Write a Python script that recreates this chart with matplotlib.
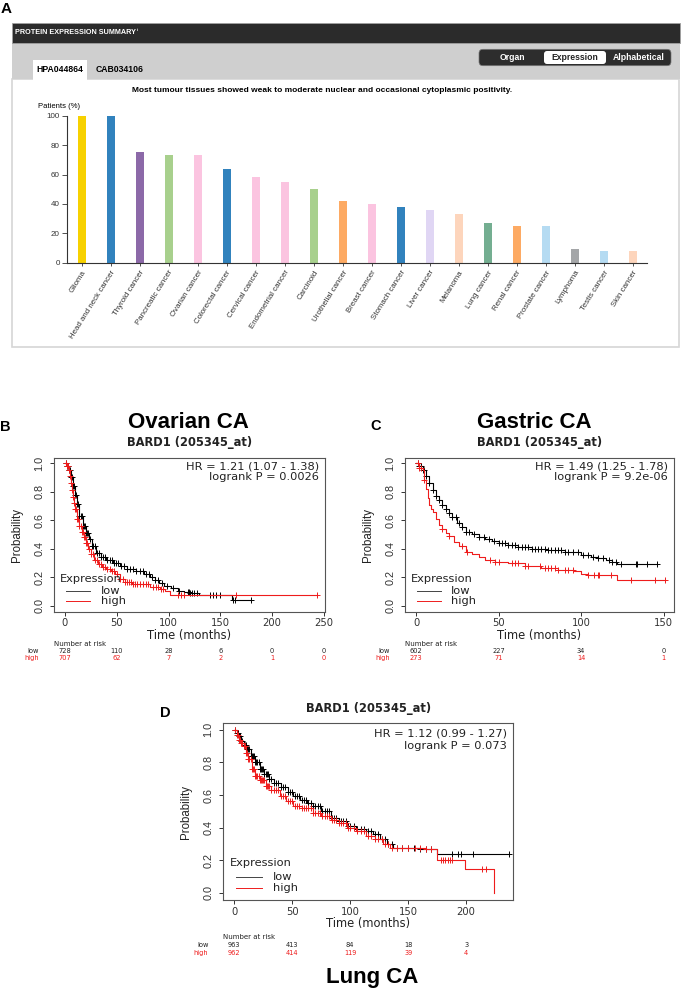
import numpy as np
import matplotlib.pyplot as plt
from matplotlib.patches import Rectangle, FancyBboxPatch
from matplotlib.transforms import offset_copy

# ---------------- panel A: protein expression summary ----------------
cancers = ['Glioma', 'Head and neck cancer', 'Thyroid cancer', 'Pancreatic cancer',
           'Ovarian cancer', 'Colorectal cancer', 'Cervical cancer', 'Endometrial cancer',
           'Carcinoid', 'Urothelial cancer', 'Breast cancer', 'Stomach cancer',
           'Liver cancer', 'Melanoma', 'Lung cancer', 'Renal cancer', 'Prostate cancer',
           'Lymphoma', 'Testis cancer', 'Skin cancer']
patients_pct = [100, 100, 75, 73, 73, 64, 58, 55, 50, 42, 40, 38, 36, 33, 27, 25, 25, 9, 8, 8]
bar_colors = ['#f7d100', '#3182bd', '#8c69a8', '#a8d08d', '#fbc4e0', '#3182bd', '#fbc4e0',
              '#fbc4e0', '#a8d08d', '#fdaa63', '#fbc4e0', '#3182bd', '#e0d6f4', '#fdd5bc',
              '#74ae91', '#fdaa63', '#b5dbf2', '#a4a6a8', '#b5dbf2', '#fdd5bc']
pct_ticks = [0, 20, 40, 60, 80, 100]

# ---------------- KM curves (time in months, survival probability) ----------------
ov_low_t = [0, 2, 4, 6, 8, 10, 12, 14, 17, 20, 23, 26, 30, 35, 40, 46, 53, 60, 69, 76, 82,
            87, 91, 96, 102, 109, 115, 121, 129, 161, 180]
ov_low_s = [1.0, 0.98, 0.95, 0.90, 0.84, 0.78, 0.71, 0.63, 0.56, 0.51, 0.47, 0.42, 0.37,
            0.34, 0.32, 0.30, 0.28, 0.26, 0.24, 0.22, 0.20, 0.18, 0.16, 0.14, 0.12, 0.10,
            0.095, 0.09, 0.075, 0.04, 0.04]
ov_low_cens = [1, 2, 3, 4, 5, 6, 7, 8, 9, 10, 11, 12, 13, 14, 15, 16, 17, 18, 19, 20, 21, 22,
               24, 26, 27, 29, 31, 33, 35, 37, 39, 41, 43, 45, 47, 49, 51, 54, 57, 60, 63, 66,
               69, 72, 75, 78, 81, 84, 87, 90, 94, 98, 104, 110, 119, 120, 121, 123, 125, 127,
               140, 143, 146, 150, 162, 164, 180]
ov_high_t = [0, 2, 4, 5, 6, 7, 8, 9, 10, 12, 14, 16, 18, 20, 22, 25, 28, 32, 36, 40, 44, 48,
             53, 58, 65, 82, 92, 97, 101, 243]
ov_high_s = [1.0, 0.98, 0.95, 0.91, 0.86, 0.81, 0.76, 0.72, 0.68, 0.61, 0.56, 0.52, 0.48,
             0.44, 0.40, 0.36, 0.32, 0.29, 0.27, 0.26, 0.24, 0.22, 0.19, 0.165, 0.15, 0.13,
             0.115, 0.10, 0.074, 0.074]
ov_high_cens = [1, 2, 3, 4, 5, 6, 7, 8, 9, 10, 11, 12, 13, 14, 15, 16, 17, 18, 19, 20, 21, 23,
                25, 27, 29, 31, 33, 35, 37, 39, 41, 43, 45, 47, 50, 53, 56, 58, 60, 62, 64, 66,
                68, 70, 72, 75, 78, 80, 85, 88, 90, 93, 95, 109, 112, 115, 165, 243]

ga_low_t = [0, 2, 4, 6, 8, 10, 12, 14, 16, 18, 20, 22, 25, 28, 30, 34, 38, 42, 46, 50, 56,
            62, 70, 80, 90, 100, 106, 110, 115, 119, 122, 146]
ga_low_s = [1.0, 0.98, 0.95, 0.91, 0.86, 0.81, 0.77, 0.74, 0.71, 0.68, 0.65, 0.62, 0.58,
            0.55, 0.52, 0.50, 0.48, 0.47, 0.455, 0.44, 0.425, 0.41, 0.40, 0.39, 0.375,
            0.355, 0.345, 0.335, 0.32, 0.31, 0.293, 0.293]
ga_low_cens = [1, 2, 3, 4, 5, 6, 8, 10, 12, 14, 16, 18, 20, 22, 24, 26, 28, 30, 32, 35, 38,
               41, 44, 47, 50, 52, 54, 56, 58, 60, 62, 64, 66, 68, 70, 72, 74, 76, 78, 80, 82,
               84, 86, 88, 90, 92, 95, 98, 101, 104, 107, 110, 113, 117, 119, 121, 124, 133,
               134, 140, 146]
ga_high_t = [0, 2, 4, 5, 6, 7, 8, 9, 10, 12, 14, 16, 18, 20, 23, 26, 30, 34, 38, 42, 48, 56,
             66, 76, 86, 96, 100, 104, 122, 151]
ga_high_s = [1.0, 0.97, 0.95, 0.88, 0.82, 0.76, 0.71, 0.68, 0.66, 0.61, 0.57, 0.54, 0.51,
             0.49, 0.45, 0.42, 0.38, 0.36, 0.34, 0.32, 0.305, 0.297, 0.28, 0.263, 0.25,
             0.24, 0.225, 0.215, 0.177, 0.177]
ga_high_cens = [1, 2, 3, 5, 16, 20, 28, 31, 45, 48, 50, 58, 60, 62, 66, 68, 75, 78, 80, 82,
                84, 86, 90, 92, 95, 104, 108, 110, 111, 118, 130, 145, 151]

lu_low_t = [0, 2, 4, 6, 8, 11, 14, 18, 22, 26, 30, 34, 40, 46, 51, 57, 63, 68, 75, 83, 90,
            97, 105, 114, 120, 126, 132, 137, 150, 160, 172, 175, 237]
lu_low_s = [1.0, 0.98, 0.96, 0.93, 0.91, 0.88, 0.84, 0.80, 0.76, 0.73, 0.70, 0.675, 0.65,
            0.62, 0.595, 0.57, 0.55, 0.533, 0.50, 0.462, 0.44, 0.41, 0.395, 0.38, 0.36,
            0.33, 0.30, 0.277, 0.275, 0.272, 0.27, 0.24, 0.24]
lu_low_cens = [1, 2, 3, 4, 5, 6, 7, 8, 9, 10, 11, 12, 13, 14, 15, 16, 17, 18, 19, 20, 21, 22,
               23, 24, 25, 26, 27, 28, 29, 30, 32, 34, 36, 38, 40, 42, 44, 46, 48, 50, 52, 54,
               56, 58, 60, 62, 64, 66, 68, 70, 72, 74, 76, 78, 80, 82, 84, 86, 88, 90, 92, 94,
               96, 98, 100, 103, 106, 109, 112, 115, 118, 121, 124, 127, 130, 133, 136, 140,
               145, 150, 155, 160, 165, 170, 188, 193, 196, 206, 237]
lu_high_t = [0, 2, 4, 6, 8, 10, 12, 15, 18, 22, 27, 32, 39, 45, 51, 58, 68, 75, 83, 90, 97,
             105, 114, 121, 128, 134, 150, 165, 175, 199, 224]
lu_high_s = [1.0, 0.97, 0.94, 0.92, 0.90, 0.86, 0.82, 0.76, 0.72, 0.69, 0.655, 0.63, 0.595,
             0.565, 0.533, 0.52, 0.49, 0.47, 0.45, 0.43, 0.40, 0.38, 0.35, 0.33, 0.30,
             0.277, 0.275, 0.272, 0.205, 0.148, 0.0]
lu_high_cens = [1, 2, 3, 4, 5, 6, 7, 8, 9, 10, 11, 12, 13, 14, 15, 16, 17, 18, 19, 20, 21,
                22, 23, 24, 25, 26, 27, 28, 29, 30, 32, 34, 36, 38, 40, 42, 44, 46, 48, 50, 52,
                54, 56, 58, 60, 62, 64, 66, 68, 70, 72, 74, 76, 78, 80, 82, 84, 86, 88, 90,
                92, 94, 96, 98, 100, 103, 106, 109, 112, 115, 118, 121, 124, 127, 130, 133,
                136, 140, 145, 150, 156, 160, 165, 170, 178, 180, 182, 184, 186, 188, 214, 217]

ov_ticks = [0, 50, 100, 150, 200, 250]
ga_ticks = [0, 50, 100, 150]
lu_ticks = [0, 50, 100, 150, 200]
ov_risk_low = [728, 110, 28, 6, 0, 0]
ov_risk_high = [707, 62, 7, 2, 1, 0]
ga_risk_low = [602, 227, 34, 0]
ga_risk_high = [273, 71, 14, 1]
lu_risk_low = [963, 413, 84, 18, 3]
lu_risk_high = [962, 414, 119, 39, 4]
prob_ticks = [0.0, 0.2, 0.4, 0.6, 0.8, 1.0]

# ---------------- figure ----------------
W, H = 684, 992
fig = plt.figure(figsize=(W / 100, H / 100), dpi=100)
ARIAL = 'Liberation Sans'
NARROW = ['Liberation Sans Narrow', 'Liberation Sans']
RED = '#ee1c1c'


def box(x0, y0, x1, y1):
    return [x0 / W, 1 - y1 / H, (x1 - x0) / W, (y1 - y0) / H]


bg = fig.add_axes([0, 0, 1, 1], zorder=-5)
bg.set_xlim(0, W)
bg.set_ylim(H, 0)
bg.axis('off')

# panel A frame
bg.add_patch(Rectangle((11.7, 79), 667.3, 267.7, fc='white', ec='#d6d6d6', lw=1.2))
bg.add_patch(Rectangle((11.7, 42.7), 668.3, 36.3, fc='#cfcfcf', ec='none'))
bg.add_patch(Rectangle((11.7, 22.7), 668.3, 20, fc='#2b2b2b', ec='#a0a0a0', lw=0.6))
bg.add_patch(Rectangle((33, 60), 54, 19.5, fc='white', ec='none'))
bg.add_patch(FancyBboxPatch((479, 49.3), 192, 16.4, boxstyle='round,pad=0,rounding_size=4',
                            fc='#2d2d2d', ec='#777777', lw=0.5))
bg.add_patch(FancyBboxPatch((544, 51), 62, 13, boxstyle='round,pad=0,rounding_size=3',
                            fc='white', ec='none'))

bg.text(6, 9, 'A', fontsize=11, fontweight='bold', family=ARIAL, ha='center', va='center')
bg.text(15, 33, 'PROTEIN EXPRESSION SUMMARY', color='white', fontsize=5.2, fontweight='bold',
        family=ARIAL, va='center')
bg.text(137, 30, 'i', color='white', fontsize=3, fontweight='bold', family=ARIAL, va='center')
bg.text(60, 70, 'HPA044864', fontsize=6.2, fontweight='bold', family=ARIAL, ha='center', va='center')
bg.text(120, 70, 'CAB034106', fontsize=6.2, fontweight='bold', family=ARIAL, ha='center', va='center')
bg.text(512, 57.5, 'Organ', color='white', fontsize=6.2, fontweight='bold', family=ARIAL,
        ha='center', va='center')
bg.text(575, 57.5, 'Expression', color='#222222', fontsize=6.2, fontweight='bold', family=ARIAL,
        ha='center', va='center')
bg.text(639, 57.5, 'Alphabetical', color='white', fontsize=6.2, fontweight='bold', family=ARIAL,
        ha='center', va='center')
bg.text(322.5, 90, 'Most tumour tissues showed weak to moderate nuclear and occasional '
        'cytoplasmic positivity.', fontsize=6, fontweight='bold', family=ARIAL,
        ha='center', va='center')
bg.text(59, 106, 'Patients (%)', fontsize=5.5, family=ARIAL, ha='center', va='center')

# bar chart
axa = fig.add_axes(box(66.7, 115.7, 647, 262.7))
xpos = np.arange(len(cancers))
axa.bar(xpos, patients_pct, width=0.28, color=bar_colors)
axa.set_xlim(-0.52, len(cancers) - 0.51)
axa.set_ylim(0, 100)
for s in ['top', 'right']:
    axa.spines[s].set_visible(False)
for s in ['left', 'bottom']:
    axa.spines[s].set_color('#333333')
    axa.spines[s].set_linewidth(0.8)
axa.set_yticks(pct_ticks)
axa.set_yticklabels([str(v) for v in pct_ticks], fontsize=5.8, family=ARIAL)
axa.set_xticks(xpos)
axa.set_xticklabels(cancers, rotation=58, ha='right', rotation_mode='anchor',
                    fontsize=5.7, family=ARIAL)
axa.tick_params(axis='y', length=3.5, width=0.6, pad=1.5, colors='#333333')
axa.tick_params(axis='x', length=2.5, width=0.6, pad=2, colors='#333333')
axa.patch.set_alpha(0)


# ---------------- KM panels ----------------
def step_at(t, s, c):
    idx = np.searchsorted(t, c, side='right') - 1
    return np.asarray(s)[idx]


def km_panel(rect, xlim, ticks, low, high, hr, pval, risk_low, risk_high, risk_dy):
    ax = fig.add_axes(box(*rect))
    for (t, s, c), col in [(low, 'black'), (high, RED)]:
        ax.plot(t, s, drawstyle='steps-post', color=col, lw=0.8)
        ax.plot(c, step_at(t, s, c), '+', color=col, ms=4, mew=0.7)
    ax.set_xlim(*xlim)
    ax.set_ylim(-0.043, 1.04)
    for sp in ax.spines.values():
        sp.set_color('#555555')
        sp.set_linewidth(0.8)
    ax.set_xticks(ticks)
    ax.set_xticklabels([str(v) for v in ticks], fontsize=7.2)
    ax.set_yticks(prob_ticks)
    ax.set_yticklabels(['%.1f' % v for v in prob_ticks], rotation=90, va='center',
                       fontsize=7.8, family=NARROW)
    ax.tick_params(axis='x', length=3, width=0.7, pad=1.8, colors='#333333')
    ax.tick_params(axis='y', length=3, width=0.7, pad=4, colors='#333333')

    def off(dx, dy, base=None):
        return offset_copy(base or ax.transAxes, fig=fig, x=dx, y=dy, units='dots')

    ax.text(0.5, 1, 'BARD1 (205345_at)', transform=off(0, 15), fontsize=8.3,
            fontweight='bold', ha='center', va='center', color='#222222')
    ax.text(0.977, 0.942, 'HR = %s' % hr, transform=ax.transAxes, fontsize=8.2,
            ha='right', va='center', color='#222222')
    ax.text(0.977, 0.873, 'logrank P = %s' % pval, transform=ax.transAxes, fontsize=8.2,
            ha='right', va='center', color='#222222')
    ax.text(0.022, 0.212, 'Expression', transform=ax.transAxes, fontsize=8.2,
            va='center', color='#222222')
    ax.text(0.172, 0.132, 'low', transform=ax.transAxes, fontsize=8.2, va='center',
            color='#222222')
    ax.text(0.172, 0.07, 'high', transform=ax.transAxes, fontsize=8.2, va='center',
            color='#222222')
    ax.plot([0.045, 0.133], [0.132, 0.132], transform=ax.transAxes, color='#444444', lw=0.7)
    ax.plot([0.045, 0.133], [0.07, 0.07], transform=ax.transAxes, color=RED, lw=0.7)
    ax.text(0, 0.5, 'Probability', transform=off(-37, 0), rotation=90, fontsize=8.3,
            family=NARROW, ha='center', va='center', color='#222222')
    ax.text(0.5, 0, 'Time (months)', transform=off(0, -23.5), fontsize=8.3,
            ha='center', va='center', color='#222222')
    ax.text(0, 0, 'Number at risk', transform=off(0, -risk_dy[0]), fontsize=5,
            ha='left', va='center', color='#222222')
    ax.text(0, 0, 'low', transform=off(-15, -risk_dy[1]), fontsize=4.8,
            ha='right', va='center', color='#222222')
    ax.text(0, 0, 'high', transform=off(-15, -risk_dy[2]), fontsize=4.8,
            ha='right', va='center', color=RED)
    xt = ax.get_xaxis_transform()
    for tk, a, b in zip(ticks, risk_low, risk_high):
        ax.text(tk, 0, str(a), transform=off(0, -risk_dy[1], xt), fontsize=4.8,
                ha='center', va='center', color='#222222')
        ax.text(tk, 0, str(b), transform=off(0, -risk_dy[2], xt), fontsize=4.8,
                ha='center', va='center', color=RED)
    return ax


km_panel((54, 457.5, 325, 611.7), (-10.6, 251), ov_ticks,
         (ov_low_t, ov_low_s, ov_low_cens), (ov_high_t, ov_high_s, ov_high_cens),
         '1.21 (1.07 - 1.38)', '0.0026', ov_risk_low, ov_risk_high, (32, 39.2, 46))
km_panel((405, 457.7, 674, 611.7), (-6.7, 156.3), ga_ticks,
         (ga_low_t, ga_low_s, ga_low_cens), (ga_high_t, ga_high_s, ga_high_cens),
         '1.49 (1.25 - 1.78)', '9.2e-06', ga_risk_low, ga_risk_high, (32, 39.2, 46))
km_panel((223.3, 723.3, 513.3, 900), (-9.5, 240.7), lu_ticks,
         (lu_low_t, lu_low_s, lu_low_cens), (lu_high_t, lu_high_s, lu_high_cens),
         '1.12 (0.99 - 1.27)', '0.073', lu_risk_low, lu_risk_high, (37, 45, 53))

# panel titles and letters
bg.text(5, 427, 'B', fontsize=10.5, fontweight='bold', family=ARIAL, ha='center', va='center')
bg.text(376, 426, 'C', fontsize=10.5, fontweight='bold', family=ARIAL, ha='center', va='center')
bg.text(165, 713, 'D', fontsize=10.5, fontweight='bold', family=ARIAL, ha='center', va='center')
bg.text(188, 422, 'Ovarian CA', fontsize=16, fontweight='bold', family=ARIAL,
        ha='center', va='center')
bg.text(534, 422, 'Gastric CA', fontsize=16, fontweight='bold', family=ARIAL,
        ha='center', va='center')
bg.text(372, 978, 'Lung CA', fontsize=16, fontweight='bold', family=ARIAL,
        ha='center', va='center')

fig.savefig('out.png', dpi=100)
